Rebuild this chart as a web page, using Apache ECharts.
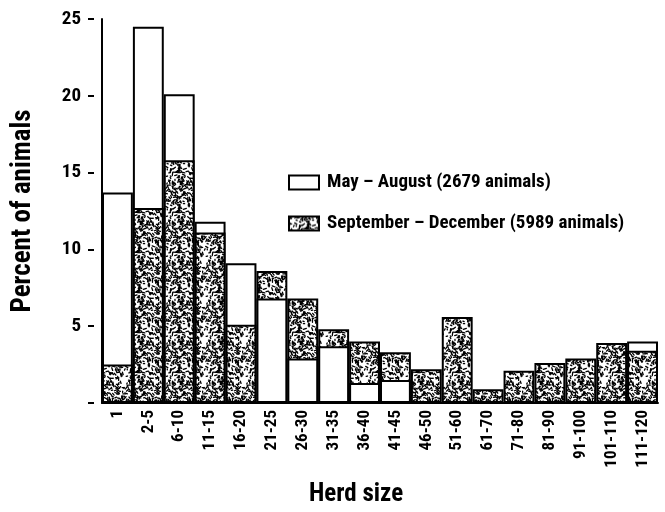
<!DOCTYPE html>
<html>
<head>
<meta charset="utf-8">
<script src="https://cdn.jsdelivr.net/npm/echarts@6/dist/echarts.min.js"></script>
<style>
  html, body { margin: 0; padding: 0; background: #fff; }
  #chart { width: 665px; height: 512px; }
</style>
</head>
<body>
<div id="chart"></div>
<script>
// Herd size classes
const herdSizes = ['1', '2-5', '6-10', '11-15', '16-20', '21-25', '26-30', '31-35', '36-40',
  '41-45', '46-50', '51-60', '61-70', '71-80', '81-90', '91-100', '101-110', '111-120'];
// Percent of animals, May – August
const mayAug = [13.7, 24.5, 20.1, 11.8, 9.1, 6.8, 2.9, 3.7, 1.3, 1.5, 0, 0, 0, 0, 0, 0, 0, 4.0];
// Percent of animals, September – December
const sepDec = [2.5, 12.7, 15.8, 11.1, 5.1, 8.6, 6.8, 4.8, 4.0, 3.3, 2.2, 5.6, 0.9, 2.1, 2.6, 2.9, 3.9, 3.4];
const yTicks = [0, 5, 10, 15, 20, 25];

const NAME_MAY = 'May – August (2679 animals)';
const NAME_SEP = 'September – December (5989 animals)';
const FONT = '"Roboto Condensed", "Liberation Sans Narrow", sans-serif';

// Speckled fill texture (deterministic hash, no data involved)
function stipple() {
  const N = 40;
  const c = document.createElement('canvas');
  c.width = N; c.height = N;
  const g = c.getContext('2d');
  g.fillStyle = '#ffffff';
  g.fillRect(0, 0, N, N);
  let s = 4242;
  const next = () => { s = (s * 1103515245 + 12345) & 0x7fffffff; return s / 0x7fffffff; };
  g.strokeStyle = '#000';
  g.lineWidth = 1.3;
  g.lineCap = 'round';
  for (let i = 0; i < 230; i++) {
    const x = next() * N, y = next() * N;
    const a = next() * Math.PI * 2, l = 1 + next() * 2.5;
    for (const dx of [-N, 0, N]) for (const dy of [-N, 0, N]) {
      g.beginPath();
      g.moveTo(x + dx, y + dy);
      g.lineTo(x + dx + Math.cos(a) * l, y + dy + Math.sin(a) * l);
      g.stroke();
    }
  }
  return c;
}
const pattern = { image: stipple(), repeat: 'repeat' };

// Taller bar of each class sits behind, shorter one in front
const mayBack = mayAug.map((v, i) => (v > 0 && v >= sepDec[i]) ? v : '-');
const sepBack = sepDec.map((v, i) => (v > 0 && v > mayAug[i]) ? v : '-');
const mayFront = mayAug.map((v, i) => (v > 0 && v < sepDec[i]) ? v : '-');
const sepFront = sepDec.map((v, i) => (v > 0 && v <= mayAug[i]) ? v : '-');

const whiteStyle = { color: '#ffffff', borderColor: '#000', borderWidth: 2 };
const dotStyle = { color: pattern, borderColor: '#000', borderWidth: 2 };

function bar(name, data, style) {
  return {
    type: 'bar', name, data, itemStyle: style,
    barGap: '-100%', barCategoryGap: 0, animation: false,
    emphasis: { disabled: true }
  };
}

const chart = echarts.init(document.getElementById('chart'), null, { renderer: 'canvas' });
chart.setOption({
  backgroundColor: '#fff',
  animation: false,
  grid: { left: 102, right: 7, top: 19, bottom: 108, containLabel: false },
  legend: {
    data: [NAME_MAY, NAME_SEP],
    orient: 'vertical',
    left: 283, top: 168,
    itemWidth: 30, itemHeight: 14, itemGap: 22,
    icon: 'rect',
    selectedMode: false,
    textStyle: { fontFamily: FONT, fontWeight: 'bold', fontSize: 19, color: '#000', padding: [0, 0, 0, 3] }
  },
  xAxis: {
    type: 'category',
    data: herdSizes,
    name: 'Herd size',
    nameLocation: 'middle',
    nameGap: 79,
    nameTextStyle: { fontFamily: FONT, fontWeight: 'bold', fontSize: 25, color: '#000', padding: [0, 48, 0, 0] },
    axisLine: { lineStyle: { color: '#000', width: 2 } },
    axisTick: { show: false },
    axisLabel: { rotate: 90, interval: 0, margin: 7, fontFamily: FONT, fontWeight: 'bold', fontSize: 17, color: '#000' }
  },
  yAxis: [{
    type: 'value', min: 0, max: 25, interval: 5,
    axisLine: { show: true, lineStyle: { color: '#000', width: 2 } },
    axisTick: { show: false },
    axisLabel: { show: false },
    splitLine: { show: false }
  }, {
    type: 'value', min: 0, max: 25, interval: 5,
    position: 'left', offset: 8,
    name: 'Percent of animals',
    nameLocation: 'middle',
    nameGap: 57,
    nameTextStyle: { fontFamily: FONT, fontWeight: 'bold', fontSize: 27, color: '#000' },
    axisLine: { show: false },
    axisTick: { show: true, length: 6, lineStyle: { color: '#000', width: 2 } },
    axisLabel: {
      margin: 13, fontFamily: FONT, fontWeight: 'bold', fontSize: 19, color: '#000',
      formatter: v => (v === 0 || yTicks.indexOf(v) < 0) ? '' : String(v)
    },
    splitLine: { show: false }
  }],
  series: [
    bar(NAME_MAY, mayBack, whiteStyle),
    bar(NAME_SEP, sepBack, dotStyle),
    bar(NAME_MAY, mayFront, whiteStyle),
    bar(NAME_SEP, sepFront, dotStyle)
  ]
});
</script>
</body>
</html>
